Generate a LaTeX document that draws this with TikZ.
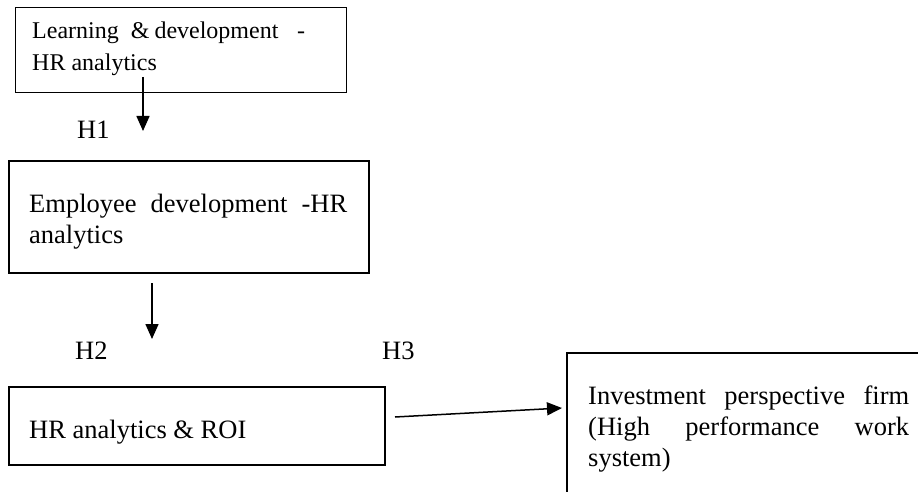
\documentclass[tikz,border=0pt]{standalone}
\usepackage{fontspec}
\setmainfont{Liberation Serif}
\usetikzlibrary{arrows.meta}
\begin{document}
\begin{tikzpicture}[x=1pt,y=-1pt,
  boxthin/.style={draw, line width=1.3pt, inner sep=0pt, anchor=north west},
  boxthick/.style={draw, line width=1.8pt, inner sep=0pt, anchor=north west},
  lbl/.style={inner sep=0pt, anchor=base west, font=\fontsize{26.5}{31}\selectfont},
  small/.style={inner sep=0pt, anchor=base west, font=\fontsize{24}{32}\selectfont},
  arr/.style={line width=1.5pt, -{Triangle[length=15pt,width=13pt]}}]
\useasboundingbox (0,0) rectangle (918,492);
\clip (0,0) rectangle (918,492);
% boxes
\node[boxthin, minimum width=331pt, minimum height=85pt] (b1) at (15,7) {};
\node[boxthick, minimum width=360pt, minimum height=112pt] (b2) at (8,160) {};
\node[boxthick, minimum width=376pt, minimum height=78pt] (b3) at (8,386) {};
\node[boxthick, minimum width=420pt, minimum height=220pt] (b4) at (566,352) {};
% texts
\node[small] (t1a) at (32,39) {\makebox[273pt][l]{Learning\hspace{12pt}\&\hspace{5pt}development\hfill-}};
\node[small] (t1b) at (32,71) {HR analytics};
\node[lbl] (t2a) at (29,212) {\makebox[318pt]{Employee\hfill development\hfill -HR}};
\node[lbl] (t2b) at (29,243) {analytics};
\node[lbl] (t3) at (29,438) {HR analytics \& ROI};
\node[lbl] (t4a) at (588,404) {\makebox[321pt]{Investment\hfill perspective\hfill firm}};
\node[lbl] (t4b) at (588,435) {\makebox[321pt]{(High\hfill performance\hfill work}};
\node[lbl] (t4c) at (588,466) {system)};
\node[lbl] (h1) at (77,139) {H1};
\node[lbl] (h2) at (75,359) {H2};
\node[lbl] (h3) at (382,359) {H3};
% connector ends
\coordinate (a1s) at (143,77);
\coordinate (a1e) at (143,131);
\coordinate (a2s) at (152,283);
\coordinate (a2e) at (152,339);
\coordinate (a3s) at (395,417);
\coordinate (a3e) at (562,408);
\draw[arr] (a1s) -- (a1e);
\draw[arr] (a2s) -- (a2e);
\draw[arr] (a3s) -- (a3e);
\end{tikzpicture}
\end{document}
